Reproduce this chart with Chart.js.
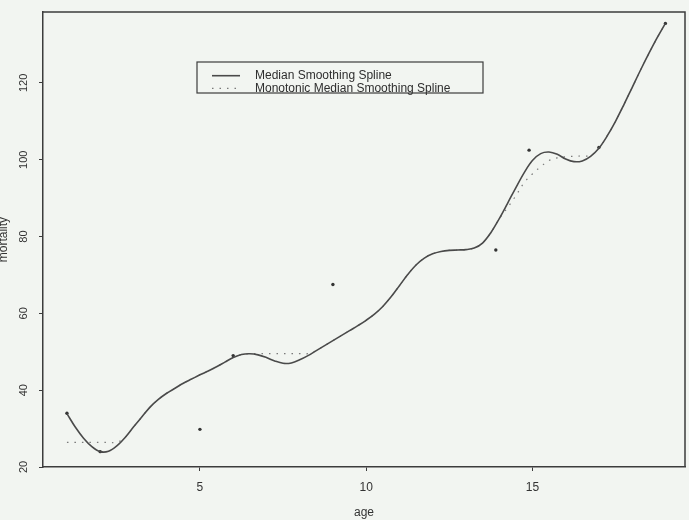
<!DOCTYPE html>
<html>
<head>
<meta charset="utf-8">
<script src="https://cdn.jsdelivr.net/npm/chart.js@4/dist/chart.umd.min.js"></script>
<style>
  html, body { margin: 0; padding: 0; background: #f2f5f1; }
  #wrap { width: 689px; height: 520px; }
</style>
</head>
<body>
<div id="wrap"><canvas id="c" width="689" height="520"></canvas></div>
<script>
// Observed mortality by age
const ageObs  = [1, 2, 5, 6, 9, 13.9, 14.9, 17, 19];
const mortObs = [34, 24, 29.8, 49, 67.5, 76.5, 102.5, 103.2, 135.5];

// Ages at which the fitted splines are evaluated
const ageGrid = [
  1, 1.25, 1.5, 1.75, 2, 2.25, 2.5, 2.75, 3, 3.25, 3.5, 3.75, 4, 4.25, 4.5, 4.75,
  5, 5.25, 5.5, 5.75, 6, 6.25, 6.5, 6.75, 7, 7.25, 7.5, 7.75, 8, 8.25, 8.5, 8.75,
  9, 9.25, 9.5, 9.75, 10, 10.25, 10.5, 10.75, 11, 11.25, 11.5, 11.75, 12, 12.25, 12.5, 12.75,
  13, 13.25, 13.5, 13.75, 14, 14.25, 14.5, 14.75, 15, 15.25, 15.5, 15.75, 16, 16.25, 16.5, 16.75,
  17, 17.25, 17.5, 17.75, 18, 18.25, 18.5, 18.75, 19
];

// Median smoothing spline
const medianFit = [
  33.9, 30.4, 27.5, 25.3, 24.0, 24.1, 25.5, 27.7, 30.4, 33.0, 35.6, 37.6, 39.2, 40.5, 41.8, 42.9,
  44.0, 45.0, 46.1, 47.3, 48.5, 49.3, 49.5, 49.2, 48.5, 47.6, 47.0, 47.1, 47.9, 49.0, 50.3, 51.6,
  52.9, 54.2, 55.5, 56.8, 58.2, 59.8, 61.8, 64.3, 67.2, 70.1, 72.6, 74.4, 75.5, 76.1, 76.4, 76.5,
  76.6, 77.0, 78.3, 81.0, 84.6, 88.6, 92.7, 96.6, 99.8, 101.6, 102.0, 101.4, 100.2, 99.5, 99.7, 100.9,
  103.0, 106.2, 110.0, 114.3, 118.8, 123.3, 127.6, 131.7, 135.5
];

// Monotonic median smoothing spline
const monoFit = [
  26.4, 26.4, 26.4, 26.4, 26.4, 26.4, 26.4, 27.7, 30.4, 33.0, 35.6, 37.6, 39.2, 40.5, 41.8, 42.9,
  44.0, 45.0, 46.1, 47.3, 48.5, 49.3, 49.5, 49.5, 49.5, 49.5, 49.5, 49.5, 49.5, 49.5, 50.3, 51.6,
  52.9, 54.2, 55.5, 56.8, 58.2, 59.8, 61.8, 64.3, 67.2, 70.1, 72.6, 74.4, 75.5, 76.1, 76.4, 76.5,
  76.6, 77.0, 78.3, 81.0, 84.6, 87.5, 90.6, 94.0, 96.3, 98.2, 99.8, 100.5, 100.8, 100.9, 101.0, 101.1,
  103.0, 106.2, 110.0, 114.3, 118.8, 123.3, 127.6, 131.7, 135.5
];

const xTicks = [5, 10, 15];
const yTicks = [20, 40, 60, 80, 100, 120];

const INK = '#3c3c3c';
const FONT = 'Liberation Sans';

const pairs = (xs, ys) => xs.map((x, i) => ({ x: x, y: ys[i] }));

// Paper background
const paper = {
  id: 'paper',
  beforeDraw(chart) {
    const ctx = chart.ctx;
    ctx.save();
    ctx.fillStyle = '#f2f5f1';
    ctx.fillRect(0, 0, chart.width, chart.height);
    ctx.restore();
  }
};

// Top and right sides of the plot box
const frame = {
  id: 'frame',
  afterDraw(chart) {
    const a = chart.chartArea, ctx = chart.ctx;
    ctx.save();
    ctx.strokeStyle = INK;
    ctx.lineWidth = 1.5;
    ctx.beginPath();
    ctx.moveTo(a.left, a.top);
    ctx.lineTo(a.right, a.top);
    ctx.lineTo(a.right, a.bottom);
    ctx.stroke();
    ctx.restore();
  }
};

// Boxed key for the two fitted curves
const keyBox = {
  id: 'keyBox',
  afterDraw(chart) {
    const ctx = chart.ctx;
    const sets = chart.data.datasets.slice(0, 2);
    const box = { x: 197, y: 62, w: 286, h: 31 };
    ctx.save();
    ctx.strokeStyle = INK;
    ctx.lineWidth = 1.2;
    ctx.strokeRect(box.x, box.y, box.w, box.h);
    ctx.font = '12px "' + FONT + '"';
    ctx.fillStyle = '#2e2e2e';
    ctx.textBaseline = 'middle';
    sets.forEach((ds, i) => {
      const y = 75.7 + i * 12.6;
      ctx.beginPath();
      ctx.strokeStyle = ds.borderColor;
      ctx.lineWidth = ds.borderWidth;
      ctx.setLineDash(ds.borderDash || []);
      ctx.moveTo(212, y);
      ctx.lineTo(240, y);
      ctx.stroke();
      ctx.setLineDash([]);
      ctx.fillText(ds.label, 255, y);
    });
    ctx.restore();
  }
};

new Chart(document.getElementById('c'), {
  type: 'line',
  data: {
    datasets: [
      {
        label: 'Median Smoothing Spline',
        data: pairs(ageGrid, medianFit),
        borderColor: '#4a4a4a',
        borderWidth: 1.6,
        pointRadius: 0,
        tension: 0.35,
        fill: false
      },
      {
        label: 'Monotonic Median Smoothing Spline',
        data: pairs(ageGrid, monoFit),
        borderColor: '#7a7a7a',
        borderWidth: 1.2,
        borderDash: [1.5, 6],
        pointRadius: 0,
        tension: 0.35,
        fill: false
      },
      {
        type: 'scatter',
        label: 'observed',
        data: pairs(ageObs, mortObs),
        pointRadius: 1.7,
        pointBackgroundColor: '#333',
        pointBorderWidth: 0,
        showLine: false
      }
    ]
  },
  options: {
    responsive: false,
    animation: false,
    devicePixelRatio: 1,
    layout: { padding: { top: 11, right: 1, left: 0, bottom: 0 } },
    plugins: { legend: { display: false }, tooltip: { enabled: false } },
    scales: {
      x: {
        type: 'linear',
        min: 0.28,
        max: 19.59,
        afterBuildTicks: s => { s.ticks = xTicks.map(v => ({ value: v })); },
        afterFit: s => { s.height = 53; },
        grid: { drawOnChartArea: false, drawTicks: true, tickLength: 4, color: INK, tickWidth: 1 },
        border: { display: true, color: INK, width: 1.5 },
        ticks: { padding: 9, color: '#333', maxRotation: 0, font: { family: FONT, size: 12 } },
        title: { display: true, text: 'age', color: '#333', font: { family: FONT, size: 12 }, padding: { top: 0, bottom: 0 } }
      },
      y: {
        type: 'linear',
        min: 20,
        max: 138.44,
        afterBuildTicks: s => { s.ticks = yTicks.map(v => ({ value: v })); },
        afterFit: s => { s.width = 43; },
        grid: { drawOnChartArea: false, drawTicks: true, tickLength: 4, color: INK, tickWidth: 1 },
        border: { display: true, color: INK, width: 1.5 },
        ticks: { minRotation: 90, maxRotation: 90, crossAlign: 'center', padding: 5.5, color: '#333', font: { family: FONT, size: 11 } },
        title: { display: true, text: 'mortality', color: '#333', font: { family: FONT, size: 12 }, padding: { top: -4, bottom: 0 } }
      }
    }
  },
  plugins: [paper, frame, keyBox]
});
</script>
</body>
</html>
